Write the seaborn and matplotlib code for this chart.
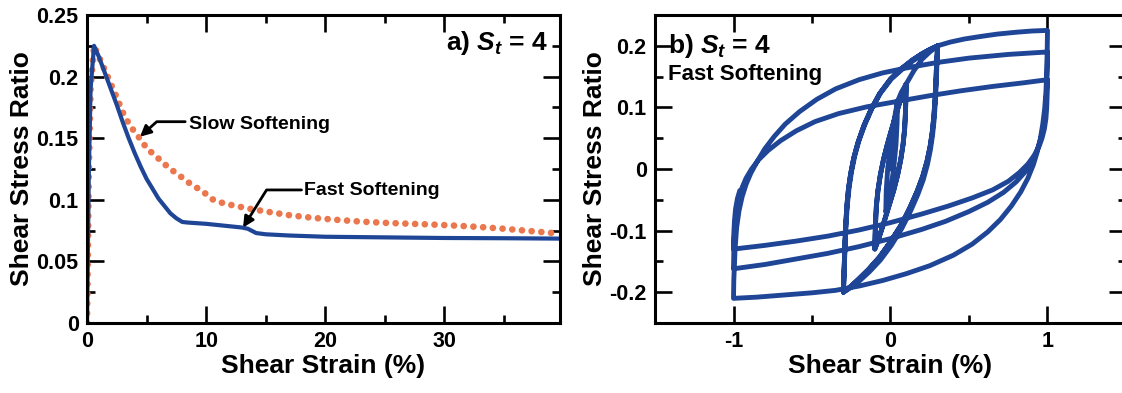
import numpy as np
import pandas as pd
import matplotlib
matplotlib.use("Agg")
import matplotlib.pyplot as plt
from matplotlib.ticker import MultipleLocator, FuncFormatter
import seaborn as sns

# ---------------- data: panel a (monotonic softening) ----------------
strain_fast = [0, 0.15, 0.3, 0.59, 1.0, 1.5, 2.0, 2.5, 3.0, 3.5, 4.0, 4.5, 5.0, 5.5, 6.0,
               6.5, 7.0, 7.5, 8.0, 8.5, 10.0, 11.0, 12.0, 13.0, 13.5, 14.2, 15.0,
               17.0, 20.0, 25.0, 30.0, 35.0, 39.7]
stress_fast = [0, 0.12, 0.19, 0.225, 0.216, 0.203, 0.19, 0.177, 0.163, 0.15, 0.138, 0.127,
               0.117, 0.109, 0.101, 0.095, 0.089, 0.085, 0.082, 0.0815, 0.0805, 0.0795,
               0.0785, 0.0775, 0.0765, 0.0730, 0.0720, 0.0710, 0.0700, 0.0695, 0.069,
               0.0688, 0.0685]

strain_slow = [0, 0.15, 0.3, 0.59, 1.0, 1.6, 2.0, 2.5, 3.0, 3.5, 4.0, 4.5, 5.0, 5.7, 6.3,
               6.9, 7.6, 8.3, 9.0, 9.7, 10.5, 11.5, 12.5, 13.5, 15.0, 17.0, 19.0, 21.0,
               23.0, 25.0, 27.0, 29.0, 31.0, 33.0, 35.0, 37.0, 39.7]
stress_slow = [0, 0.12, 0.19, 0.225, 0.216, 0.203, 0.194, 0.183, 0.171, 0.162, 0.155, 0.149,
               0.142, 0.136, 0.131, 0.1255, 0.121, 0.1155, 0.111, 0.107, 0.1005, 0.097,
               0.095, 0.093, 0.0905, 0.0875, 0.0853, 0.0837, 0.0823, 0.0813, 0.0806,
               0.0799, 0.079, 0.0779, 0.0765, 0.0748, 0.0725]

# ---------------- data: panel b (cyclic loops, fast softening) ----------------
tiny_up = [(0.0, 0.0), (0.01, 0.03), (0.02, 0.055), (0.035, 0.09), (0.045, 0.11)]
tiny_down = [(0.045, 0.11), (0.042, 0.075), (0.035, 0.04), (0.02, 0.0), (0.0, -0.035),
             (-0.015, -0.055), (-0.03, -0.07)]
tiny_up2 = [(-0.03, -0.07), (-0.027, -0.035), (-0.018, 0.0), (0.0, 0.04), (0.02, 0.075),
            (0.045, 0.11), (0.07, 0.125), (0.1, 0.138)]
small_down = [(0.1, 0.138), (0.098, 0.115), (0.095, 0.09), (0.09, 0.065), (0.08, 0.04),
              (0.065, 0.015), (0.045, -0.01), (0.02, -0.035), (-0.01, -0.06), (-0.04, -0.085),
              (-0.065, -0.105), (-0.085, -0.12), (-0.1, -0.13)]
small_up = [(-0.1, -0.13), (-0.098, -0.108), (-0.095, -0.085), (-0.09, -0.06), (-0.08, -0.035),
            (-0.065, -0.01), (-0.045, 0.015), (-0.02, 0.04), (0.01, 0.067), (0.04, 0.093),
            (0.065, 0.113), (0.085, 0.128), (0.1, 0.138)]
mid_up_first = [(0.1, 0.138), (0.15, 0.16), (0.2, 0.178), (0.25, 0.19), (0.3, 0.2)]
mid_down = [(0.3, 0.2), (0.296, 0.18), (0.292, 0.16), (0.288, 0.135), (0.283, 0.11),
            (0.276, 0.085), (0.266, 0.06), (0.252, 0.036), (0.232, 0.012), (0.205, -0.012),
            (0.17, -0.036), (0.125, -0.062), (0.07, -0.09), (0.0, -0.118), (-0.07, -0.143),
            (-0.14, -0.163), (-0.2, -0.178), (-0.25, -0.19), (-0.3, -0.2)]
mid_up = [(-0.3, -0.2), (-0.297, -0.175), (-0.294, -0.15), (-0.29, -0.12), (-0.285, -0.09),
          (-0.278, -0.06), (-0.268, -0.033), (-0.254, -0.008), (-0.234, 0.018), (-0.207, 0.043),
          (-0.17, 0.07), (-0.125, 0.096), (-0.07, 0.122), (0.0, 0.146), (0.07, 0.163),
          (0.14, 0.177), (0.2, 0.187), (0.25, 0.194), (0.3, 0.2)]
mid_down_b = [(0.3, 0.198), (0.297, 0.178), (0.294, 0.157), (0.29, 0.132), (0.285, 0.106),
              (0.278, 0.08), (0.268, 0.055), (0.254, 0.031), (0.235, 0.007), (0.208, -0.018),
              (0.173, -0.042), (0.128, -0.068), (0.073, -0.096), (0.005, -0.124),
              (-0.065, -0.148), (-0.135, -0.167), (-0.195, -0.181), (-0.25, -0.192),
              (-0.3, -0.2)]
mid_up_b = [(-0.3, -0.2), (-0.296, -0.172), (-0.292, -0.145), (-0.288, -0.115),
            (-0.282, -0.085), (-0.274, -0.056), (-0.263, -0.029), (-0.248, -0.004),
            (-0.227, 0.022), (-0.2, 0.047), (-0.162, 0.073), (-0.117, 0.099), (-0.062, 0.124),
            (0.005, 0.146), (0.075, 0.162), (0.145, 0.176), (0.205, 0.186), (0.255, 0.193),
            (0.3, 0.198)]
big_up_0 = [(0.3, 0.2), (0.38, 0.206), (0.47, 0.211), (0.57, 0.215), (0.68, 0.219),
            (0.8, 0.222), (0.9, 0.224), (1.0, 0.225)]
big_down_1 = [(1.0, 0.225), (0.998, 0.19), (0.995, 0.155), (0.99, 0.125), (0.982, 0.098),
              (0.97, 0.073), (0.955, 0.05), (0.935, 0.028), (0.91, 0.007), (0.875, -0.015),
              (0.83, -0.037), (0.77, -0.06), (0.7, -0.082), (0.62, -0.102), (0.52, -0.122),
              (0.4, -0.14), (0.25, -0.157), (0.1, -0.17), (-0.05, -0.181), (-0.2, -0.19),
              (-0.35, -0.197), (-0.5, -0.201), (-0.7, -0.205), (-0.85, -0.208), (-1.0, -0.21)]
big_up_1 = [(-1.0, -0.21), (-0.998, -0.18), (-0.99, -0.13), (-0.98, -0.095), (-0.965, -0.068),
            (-0.945, -0.045), (-0.92, -0.025), (-0.89, -0.007), (-0.85, 0.012), (-0.8, 0.033),
            (-0.74, 0.053), (-0.67, 0.073), (-0.58, 0.093), (-0.47, 0.113), (-0.35, 0.13),
            (-0.2, 0.145), (-0.05, 0.156), (0.1, 0.164), (0.3, 0.173), (0.5, 0.18),
            (0.75, 0.186), (1.0, 0.19)]
big_down_2 = [(1.0, 0.19), (0.998, 0.16), (0.995, 0.13), (0.99, 0.105), (0.982, 0.083),
              (0.97, 0.063), (0.953, 0.045), (0.93, 0.028), (0.9, 0.012), (0.86, -0.004),
              (0.8, -0.021), (0.72, -0.038), (0.62, -0.054), (0.5, -0.069), (0.35, -0.085),
              (0.2, -0.098), (0.0, -0.113), (-0.2, -0.126), (-0.4, -0.137), (-0.6, -0.146),
              (-0.8, -0.155), (-1.0, -0.162)]
big_up_2 = [(-1.0, -0.162), (-0.998, -0.135), (-0.995, -0.11), (-0.99, -0.088),
            (-0.98, -0.066), (-0.965, -0.047), (-0.945, -0.03), (-0.92, -0.015),
            (-0.885, 0.0), (-0.84, 0.015), (-0.78, 0.03), (-0.7, 0.046), (-0.6, 0.062),
            (-0.48, 0.077), (-0.33, 0.09), (-0.15, 0.101), (0.05, 0.11), (0.25, 0.119),
            (0.45, 0.127), (0.65, 0.134), (0.85, 0.14), (1.0, 0.145)]
big_down_3 = [(1.0, 0.145), (0.998, 0.122), (0.995, 0.1), (0.99, 0.082), (0.98, 0.065),
              (0.965, 0.05), (0.945, 0.036), (0.915, 0.022), (0.875, 0.008), (0.82, -0.006),
              (0.75, -0.02), (0.65, -0.034), (0.52, -0.047), (0.37, -0.06), (0.2, -0.073),
              (0.0, -0.087), (-0.2, -0.099), (-0.4, -0.109), (-0.6, -0.117), (-0.8, -0.124),
              (-1.0, -0.13)]
big_up_3 = [(-1.0, -0.13), (-0.998, -0.105), (-0.994, -0.085), (-0.987, -0.065),
            (-0.975, -0.048), (-0.96, -0.035)]

loop_sequence = [tiny_up, tiny_down, tiny_up2, small_down, small_up, small_down, small_up,
                 mid_up_first, mid_down, mid_up, mid_down_b, mid_up_b, mid_down, mid_up,
                 big_up_0, big_down_1, big_up_1, big_down_2, big_up_2, big_down_3, big_up_3]

path = [pt for branch in loop_sequence for pt in branch]
loops = pd.DataFrame(path, columns=["strain", "stress"])

BLUE = "#1E4596"
ORANGE = "#EA774D"

sns.set_style("ticks")
plt.rcParams["font.family"] = ["Liberation Sans", "DejaVu Sans"]
plt.rcParams["font.weight"] = "bold"
plt.rcParams["axes.unicode_minus"] = False
plt.rcParams["mathtext.fontset"] = "custom"
plt.rcParams["mathtext.rm"] = "Liberation Sans:bold"
plt.rcParams["mathtext.it"] = "Liberation Sans:italic:bold"
plt.rcParams["mathtext.bf"] = "Liberation Sans:bold"
for key in ["text.color", "axes.labelcolor", "xtick.color", "ytick.color", "axes.edgecolor"]:
    plt.rcParams[key] = "black"

fig = plt.figure(figsize=(11.22, 3.93), dpi=100)
ax1 = fig.add_axes([87 / 1122, 70 / 393, 473 / 1122, 308 / 393])
ax2 = fig.add_axes([655 / 1122, 70 / 393, 471 / 1122, 308 / 393])

# panel a
sns.lineplot(x=strain_slow, y=stress_slow, ax=ax1, sort=False, estimator=None,
             color=ORANGE, lw=4.8, linestyle=(0, (0.01, 1.45)), dash_capstyle="round")
sns.lineplot(x=strain_fast, y=stress_fast, ax=ax1, sort=False, estimator=None,
             color=BLUE, lw=3.0, solid_joinstyle="round")

ax1.set_xlim(0, 39.7)
ax1.set_ylim(0, 0.25)
ax1.xaxis.set_major_locator(MultipleLocator(10))
ax1.xaxis.set_minor_locator(MultipleLocator(5))
ax1.yaxis.set_major_locator(MultipleLocator(0.05))
ax1.yaxis.set_minor_locator(MultipleLocator(0.025))

# panel b
sns.lineplot(data=loops, x="strain", y="stress", ax=ax2, sort=False, estimator=None,
             color=BLUE, lw=3.5, solid_joinstyle="round", solid_capstyle="round")
ax2.set_xlim(-1.5, 1.5)
ax2.set_ylim(-0.25, 0.25)
ax2.xaxis.set_major_locator(MultipleLocator(1))
ax2.xaxis.set_minor_locator(MultipleLocator(0.5))
ax2.yaxis.set_major_locator(MultipleLocator(0.1))
ax2.yaxis.set_minor_locator(MultipleLocator(0.05))

fmt = FuncFormatter(lambda v, p: "0" if abs(v) < 1e-9 else f"{v:g}")
for ax in (ax1, ax2):
    ax.xaxis.set_major_formatter(fmt)
    ax.yaxis.set_major_formatter(fmt)
    for s in ax.spines.values():
        s.set_linewidth(2.2)
        s.set_visible(True)
        s.set_color("black")
    ax.tick_params(which="both", direction="in", top=True, right=True, width=1.9,
                   labelsize=15.5, pad=6, colors="black")
    ax.tick_params(which="major", length=12)
    ax.tick_params(which="minor", length=6)
    for lab in ax.get_xticklabels() + ax.get_yticklabels():
        lab.set_fontweight("bold")
    ax.set_xlabel("Shear Strain (%)", fontsize=19, fontweight="bold")
    ax.set_ylabel("Shear Stress Ratio", fontsize=19, fontweight="bold")

ax1.yaxis.set_label_coords(-0.112, 0.5)
ax2.yaxis.set_label_coords(-0.102, 0.5)
ax1.xaxis.set_label_coords(0.5, -0.1)
ax2.xaxis.set_label_coords(0.5, -0.1)

# annotations panel a
ax1.text(38.7, 0.2216, "a) $S_t$ = 4", ha="right", va="baseline", fontsize=19,
         fontweight="bold")
ax1.annotate("", xy=(4.45, 0.1512), xytext=(8.24, 0.1634),
             arrowprops=dict(arrowstyle="-|>", color="black", lw=2.0, shrinkA=0, shrinkB=0,
                             mutation_scale=16,
                             connectionstyle="angle,angleA=0,angleB=42,rad=0"))
ax1.text(8.6, 0.1615, "Slow Softening", ha="left", va="center", fontsize=14,
         fontweight="bold")
ax1.annotate("", xy=(13.1, 0.0775), xytext=(18.0, 0.108),
             arrowprops=dict(arrowstyle="-|>", color="black", lw=2.0, shrinkA=0, shrinkB=0,
                             mutation_scale=16,
                             connectionstyle="angle,angleA=0,angleB=58,rad=0"))
ax1.text(18.2, 0.1076, "Fast Softening", ha="left", va="center", fontsize=14,
         fontweight="bold")

# annotations panel b
ax2.text(-1.42, 0.188, "b) $S_t$ = 4", ha="left", va="baseline", fontsize=19,
         fontweight="bold")
ax2.text(-1.42, 0.1445, "Fast Softening", ha="left", va="baseline", fontsize=16,
         fontweight="bold")

fig.savefig("out.png", dpi=100)
